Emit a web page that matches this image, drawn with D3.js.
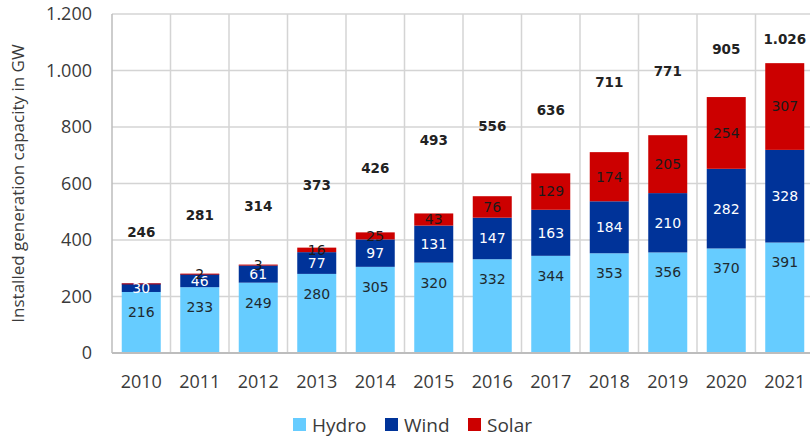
<!DOCTYPE html>
<html>
<head>
<meta charset="utf-8">
<script src="https://cdn.jsdelivr.net/npm/d3@7"></script>
<style>
  body { margin: 0; background: #fff; }
  svg { display: block; }
</style>
</head>
<body>
<script>
// installed capacity in GW, per year
var years = ["2010","2011","2012","2013","2014","2015","2016","2017","2018","2019","2020","2021"];
var hydro = [216, 233, 249, 280, 305, 320, 332, 344, 353, 356, 370, 391];
var wind  = [30, 46, 61, 77, 97, 131, 147, 163, 184, 210, 282, 328];
var solar = [0.4, 2, 3, 16, 25, 43, 76, 129, 174, 205, 254, 307];
var totals = [246, 281, 314, 373, 426, 493, 556, 636, 711, 771, 905, 1026];
// the total labels sit on an invisible series
var totalLabelAt = [429, 488, 518, 595, 654, 754, 801, 860, 960, 996, 1075, 1111];
var yTicks = [0, 200, 400, 600, 800, 1000, 1200];

var seriesNames = ["Hydro", "Wind", "Solar"];
var colors = {Hydro: "#66CCFF", Wind: "#003399", Solar: "#CC0000"};

var W = 810, H = 439;
var plotLeft = 112, plotRight = 814, plotTop = 14, plotBottom = 353;

var de = d3.formatLocale({decimal: ",", thousands: ".", grouping: [3], currency: ["", "€"]});
var fmt = de.format(",d");

var svg = d3.select("body").append("svg")
    .attr("width", W)
    .attr("height", H)
    .attr("font-family", "'Open Sans', sans-serif");

var x = d3.scaleBand()
    .domain(years)
    .range([plotLeft, plotRight])
    .paddingInner(1/3)
    .paddingOuter(1/6);

var y = d3.scaleLinear()
    .domain([0, 1200])
    .range([plotBottom, plotTop]);

var rows = years.map(function(yr, i) {
    return {year: yr, Hydro: hydro[i], Wind: wind[i], Solar: solar[i], total: totals[i], labelAt: totalLabelAt[i]};
});

var stacked = d3.stack().keys(seriesNames)(rows);

// grid
svg.append("g").selectAll("line")
    .data(yTicks.slice(1))
  .enter().append("line")
    .attr("x1", plotLeft).attr("x2", W)
    .attr("y1", function(d) { return y(d); })
    .attr("y2", function(d) { return y(d); })
    .attr("stroke", "#d4d4d4")
    .attr("stroke-width", 1.5);

svg.append("g").selectAll("line")
    .data(years)
  .enter().append("line")
    .attr("x1", function(d) { return x(d) - x.step() * x.paddingInner() / 2; })
    .attr("x2", function(d) { return x(d) - x.step() * x.paddingInner() / 2; })
    .attr("y1", plotTop).attr("y2", plotBottom)
    .attr("stroke", function(d, i) { return i == 0 ? "#bdbdbd" : "#d4d4d4"; })
    .attr("stroke-width", 1.5);

// bars
var layers = svg.append("g").selectAll("g")
    .data(stacked)
  .enter().append("g")
    .attr("fill", function(d) { return colors[d.key]; });

layers.selectAll("rect")
    .data(function(d) { return d; })
  .enter().append("rect")
    .attr("x", function(d) { return x(d.data.year); })
    .attr("width", x.bandwidth())
    .attr("y", function(d) { return y(d[1]); })
    .attr("height", function(d) { return Math.max(y(d[0]) - y(d[1]), 1); });

// x axis baseline
svg.append("line")
    .attr("x1", plotLeft).attr("x2", W)
    .attr("y1", plotBottom).attr("y2", plotBottom)
    .attr("stroke", "#bdbdbd")
    .attr("stroke-width", 2);

// segment labels
var lab = svg.append("g")
    .attr("font-family", "'DejaVu Sans', sans-serif")
    .attr("font-size", 14)
    .attr("text-anchor", "middle");

// hydro: inside end
lab.selectAll("text.hydro")
    .data(stacked[0])
  .enter().append("text")
    .attr("class", "hydro")
    .attr("x", function(d) { return x(d.data.year) + x.bandwidth() / 2; })
    .attr("y", function(d) { return y(d[1]) + 20; })
    .attr("dy", "0.35em")
    .attr("fill", "#1e2a30")
    .text(function(d) { return fmt(d.data.Hydro); });

// wind: centered, white
lab.selectAll("text.wind")
    .data(stacked[1])
  .enter().append("text")
    .attr("class", "wind")
    .attr("x", function(d) { return x(d.data.year) + x.bandwidth() / 2; })
    .attr("y", function(d) { return (y(d[0]) + y(d[1])) / 2; })
    .attr("dy", "0.35em")
    .attr("fill", "#ffffff")
    .text(function(d) { return fmt(d.data.Wind); });

// solar: centered, dark
lab.selectAll("text.solar")
    .data(stacked[2].filter(function(d) { return d.data.Solar >= 1; }))
  .enter().append("text")
    .attr("class", "solar")
    .attr("x", function(d) { return x(d.data.year) + x.bandwidth() / 2; })
    .attr("y", function(d) { return (y(d[0]) + y(d[1])) / 2; })
    .attr("dy", "0.35em")
    .attr("fill", "#1a1a1a")
    .text(function(d) { return fmt(d.data.Solar); });

// totals
lab.selectAll("text.total")
    .data(rows)
  .enter().append("text")
    .attr("class", "total")
    .attr("x", function(d) { return x(d.year) + x.bandwidth() / 2; })
    .attr("y", function(d) { return y(d.labelAt); })
    .attr("dy", "0.35em")
    .attr("font-size", 13.5)
    .attr("font-weight", "bold")
    .attr("fill", "#222")
    .text(function(d) { return fmt(d.total); });

// y tick labels
svg.append("g").selectAll("text")
    .data(yTicks)
  .enter().append("text")
    .attr("x", 92)
    .attr("y", function(d) { return y(d); })
    .attr("dy", "0.35em")
    .attr("text-anchor", "end")
    .attr("font-size", 18)
    .attr("fill", "#3a3a3a")
    .text(function(d) { return fmt(d); });

// x tick labels
svg.append("g").selectAll("text")
    .data(years)
  .enter().append("text")
    .attr("x", function(d) { return x(d) + x.bandwidth() / 2; })
    .attr("y", 382)
    .attr("dy", "0.35em")
    .attr("text-anchor", "middle")
    .attr("font-size", 18)
    .attr("fill", "#3a3a3a")
    .text(function(d) { return d; });

// y title
svg.append("text")
    .attr("transform", "translate(18," + ((plotTop + plotBottom) / 2) + ") rotate(-90)")
    .attr("dy", "0.35em")
    .attr("text-anchor", "middle")
    .attr("font-size", 17)
    .attr("fill", "#3a3a3a")
    .text("Installed generation capacity in GW");

// legend
var legendX = [293, 385, 468];
var legend = svg.append("g").selectAll("g")
    .data(seriesNames)
  .enter().append("g")
    .attr("transform", function(d, i) { return "translate(" + legendX[i] + ",425)"; });

legend.append("rect")
    .attr("x", 0).attr("y", -7)
    .attr("width", 13).attr("height", 13)
    .attr("fill", function(d) { return colors[d]; });

legend.append("text")
    .attr("x", 19)
    .attr("dy", "0.35em")
    .attr("font-size", 19)
    .attr("fill", "#3a3a3a")
    .text(function(d) { return d; });
</script>
</body>
</html>
